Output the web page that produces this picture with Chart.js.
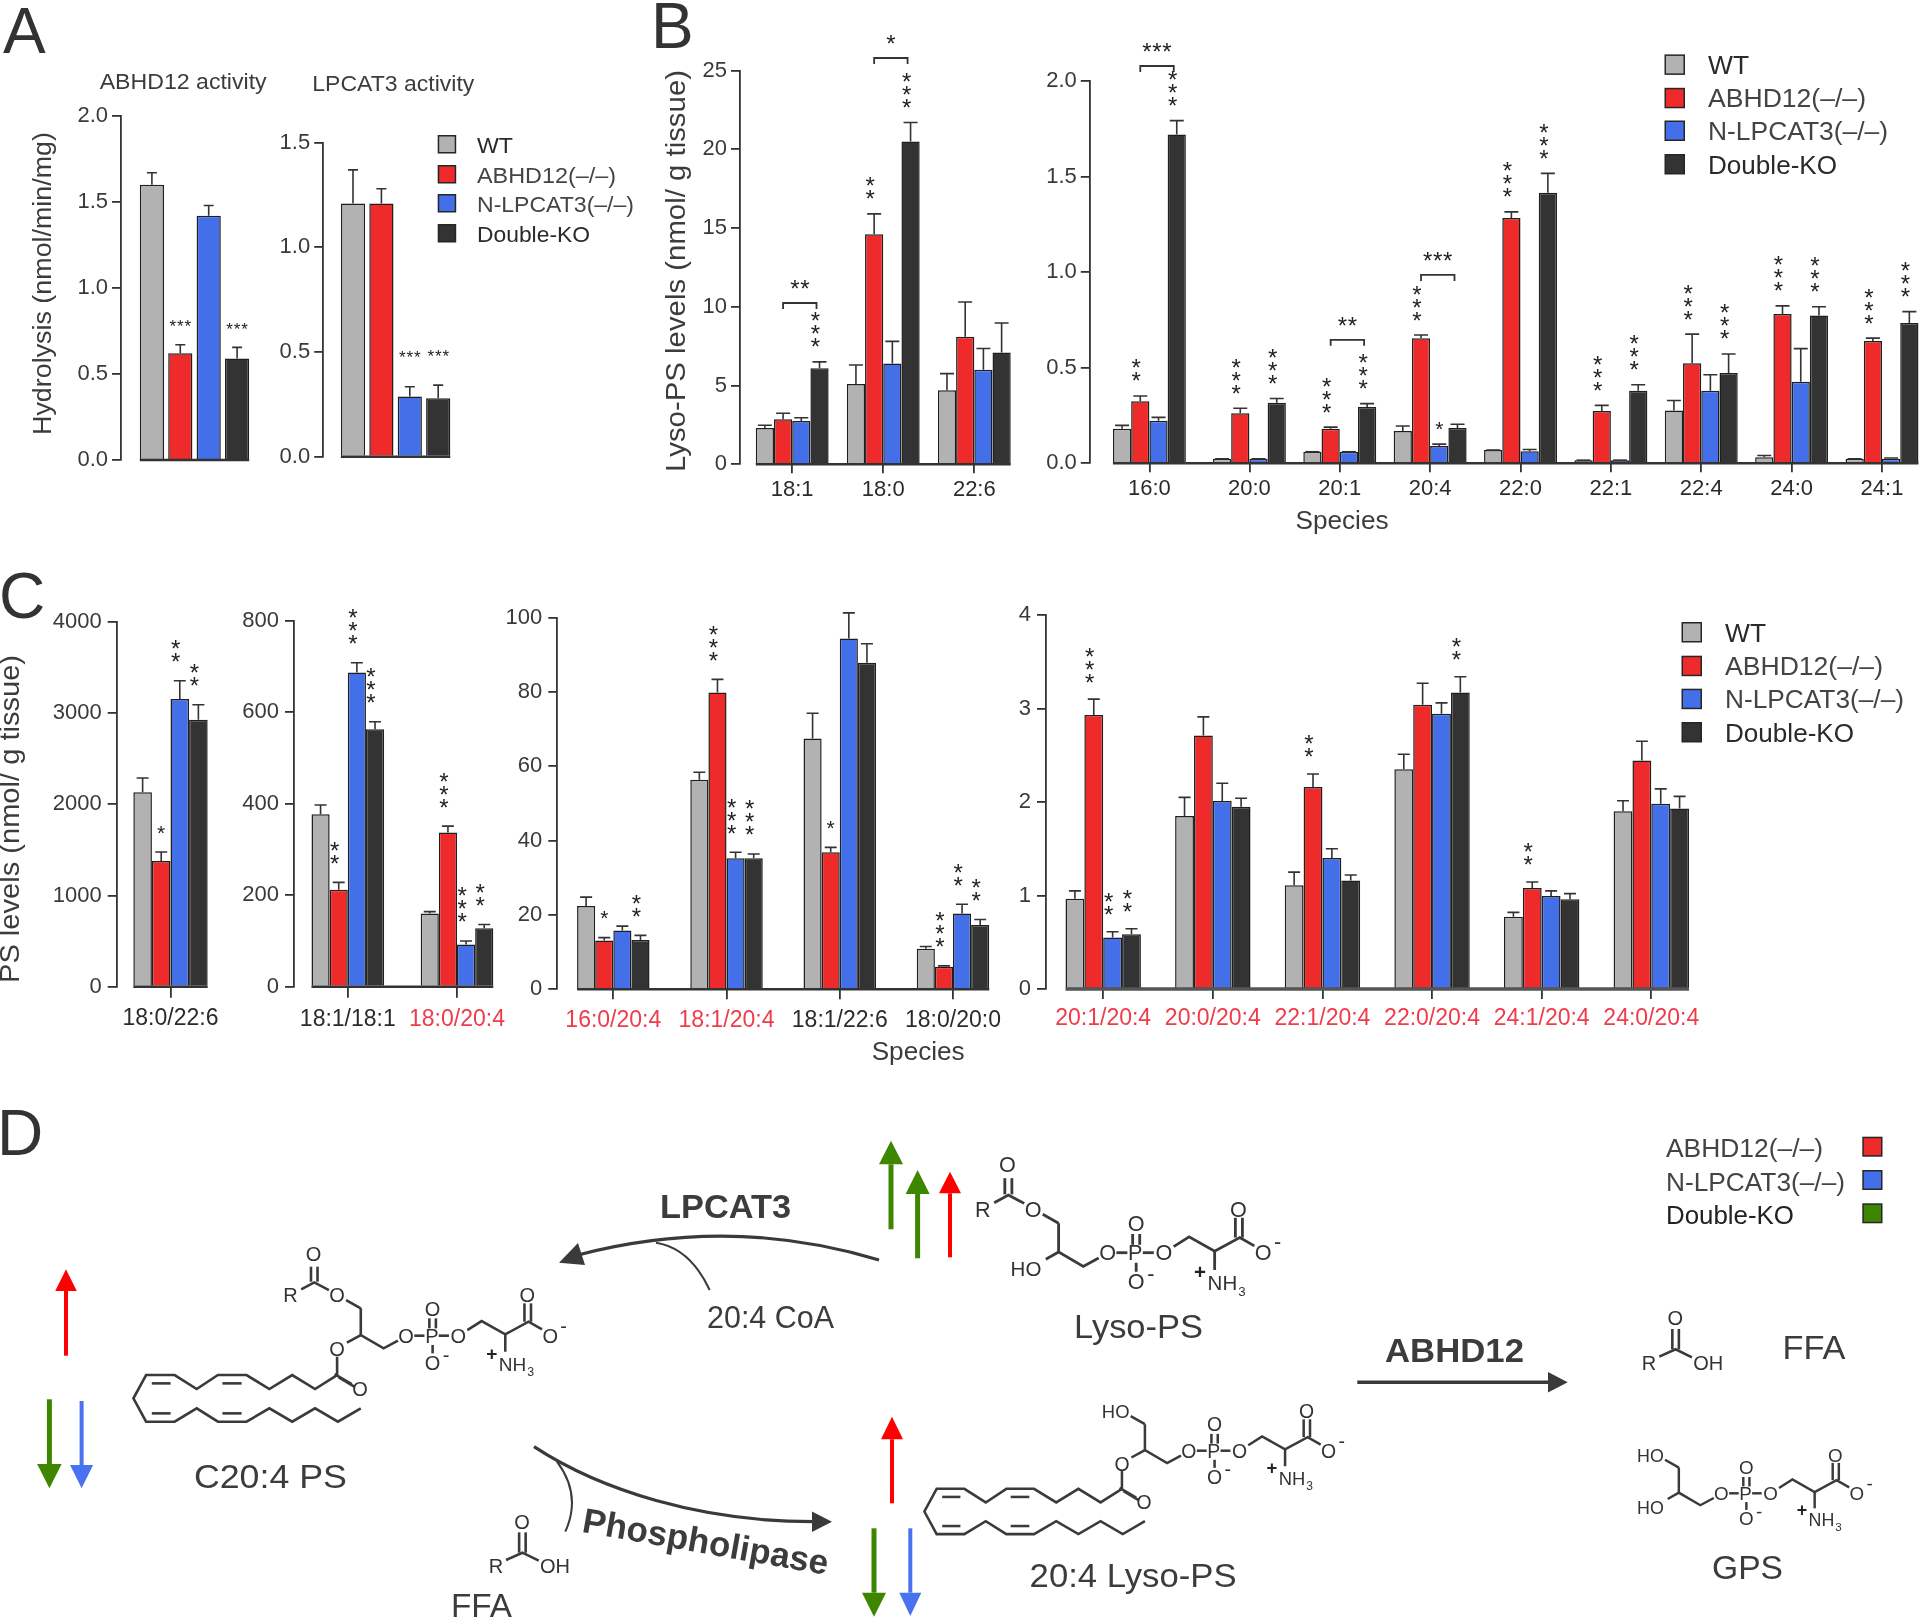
<!DOCTYPE html>
<html>
<head>
<meta charset="utf-8">
<script src="https://cdn.jsdelivr.net/npm/chart.js@4"></script>
<style>
  html, body { margin: 0; padding: 0; width: 1920px; height: 1619px; overflow: hidden; background: #fff; }
  #page { position: absolute; left: 0; top: 0; width: 1920px; height: 1619px; overflow: hidden; filter: blur(0.55px); }
  canvas, svg { position: absolute; left: 0; top: 0; }
</style>
</head>
<body>
<div id="page">
  <svg id="art" width="1920" height="1619" xmlns="http://www.w3.org/2000/svg"></svg>
</div>
<script>
// genotypes, same order in every panel
const seriesNames = ['WT', 'ABHD12(–/–)', 'N-LPCAT3(–/–)', 'Double-KO'];
const seriesColors = ['#b2b2b2', '#ee2a2b', '#436fe9', '#333333'];

// A
const a1Means = [[1.60], [0.62], [1.42], [0.59]];
const a1Tops = [[1.67], [0.67], [1.48], [0.655]];
const a1Stars = [[0], [3], [0], [3]];
const a2Means = [[1.21], [1.21], [0.287], [0.279]];
const a2Tops = [[1.37], [1.28], [0.334], [0.342]];
const a2Stars = [[0], [0], [3], [3]];

// B, long chain species
const b1Cats = ['18:1', '18:0', '22:6'];
const b1Means = [
  [2.3, 5.1, 4.7],
  [2.85, 14.6, 8.1],
  [2.75, 6.4, 6.0],
  [6.1, 20.5, 7.1]
];
const b1Tops = [
  [2.47, 6.3, 5.75],
  [3.24, 15.9, 10.3],
  [2.95, 7.8, 7.35],
  [6.5, 21.7, 8.97]
];
const b1Stars = [
  [0, 0, 0],
  [0, 2, 0],
  [0, 0, 0],
  [3, 3, 0]
];
const b1Brackets = [[0, 10.24, 2], [1, 25.8, 1]];

// B, 16:0 sits a little apart from the rest of its axis
const b2aCats = ['16:0'];
const b2aMeans = [[0.18], [0.325], [0.222], [1.722]];
const b2aTops = [[0.198], [0.352], [0.24], [1.794]];
const b2aStars = [[0], [2], [0], [3]];
const b2aBrackets = [[0, 2.08, 3]];

const b2Cats = ['20:0', '20:1', '20:4', '22:0', '22:1', '22:4', '24:0', '24:1'];
const b2Means = [
  [0.023, 0.06, 0.168, 0.069, 0.016, 0.276, 0.031, 0.023],
  [0.262, 0.18, 0.655, 1.284, 0.274, 0.523, 0.781, 0.64],
  [0.023, 0.06, 0.09, 0.063, 0.016, 0.379, 0.427, 0.023],
  [0.316, 0.294, 0.184, 1.416, 0.379, 0.472, 0.774, 0.734]
];
const b2Tops = [
  [0.023, 0.06, 0.195, 0.069, 0.016, 0.328, 0.04, 0.023],
  [0.288, 0.189, 0.671, 1.316, 0.303, 0.676, 0.824, 0.655],
  [0.023, 0.06, 0.1, 0.072, 0.016, 0.463, 0.6, 0.027],
  [0.339, 0.312, 0.204, 1.518, 0.411, 0.572, 0.819, 0.794]
];
const b2Stars = [
  [0, 0, 0, 0, 0, 0, 0, 0],
  [3, 3, 3, 3, 3, 3, 3, 3],
  [0, 0, 1, 0, 0, 0, 0, 0],
  [3, 3, 0, 3, 3, 3, 3, 3]
];
const b2Brackets = [[1, 0.646, 2], [2, 0.986, 3]];

// C
const c1Cats = ['18:0/22:6'];
const c1Means = [[2130], [1377], [3152], [2926]];
const c1Tops = [[2287], [1476], [3353], [3090]];
const c1Stars = [[0], [1], [2], [2]];

const c2Cats = ['18:1/18:1', '18:0/20:4'];
const c2Means = [[377, 160], [212, 337], [687, 92], [563, 128]];
const c2Tops = [[397, 164], [228, 351], [708, 100], [579, 136]];
const c2Stars = [[0, 0], [2, 3], [3, 3], [3, 2]];

const c3Cats = ['16:0/20:4', '18:1/20:4', '18:1/22:6', '18:0/20:0'];
const c3Means = [
  [22.4, 56.4, 67.5, 10.9],
  [13.1, 79.9, 36.9, 6.1],
  [15.8, 35.3, 94.4, 20.4],
  [13.3, 35.3, 87.9, 17.3]
];
const c3Tops = [
  [24.8, 58.4, 74.3, 11.5],
  [13.9, 83.4, 38.2, 6.3],
  [17, 36.9, 101.3, 22.9],
  [14.5, 36.4, 93, 18.8]
];
const c3Stars = [
  [0, 0, 0, 0],
  [1, 3, 1, 3],
  [0, 3, 0, 2],
  [2, 3, 0, 2]
];

const c4Cats = ['20:1/20:4', '20:0/20:4', '22:1/20:4', '22:0/20:4', '24:1/20:4', '24:0/20:4'];
const c4Means = [
  [0.966, 1.85, 1.11, 2.35, 0.774, 1.9],
  [2.93, 2.71, 2.16, 3.04, 1.08, 2.445],
  [0.55, 2.01, 1.4, 2.945, 0.995, 1.98],
  [0.585, 1.95, 1.16, 3.17, 0.96, 1.93]
];
const c4Tops = [
  [1.05, 2.05, 1.25, 2.51, 0.82, 2.014],
  [3.1, 2.91, 2.3, 3.27, 1.144, 2.65],
  [0.613, 2.2, 1.5, 3.06, 1.05, 2.14],
  [0.645, 2.04, 1.22, 3.34, 1.02, 2.06]
];
const c4Stars = [
  [0, 0, 0, 0, 0, 0],
  [3, 0, 2, 0, 2, 0],
  [2, 0, 0, 0, 0, 0],
  [2, 0, 0, 2, 0, 0]
];

const INK = '#333333';
const TEXT = '#3c3c3c';
const LABEL_RED = '#ef3b4a';
const CANVAS_W = 2000;
const CANVAS_H = 1619;

function starGlyph(ctx, x, cy, size) {
  ctx.font = size + 'px "Liberation Sans"';
  ctx.fillText('*', x, cy + size * 0.56);
}

// error bars, baseline, significance stars and brackets, drawn off the chart's own scales
const decorations = {
  id: 'decorations',
  afterLayout(chart) {
    const o = chart.options.plugins.decorations;
    if (o.axisX !== undefined && chart.scales.y.options.display) {
      const gap = chart.chartArea.left - o.axisX;
      chart.scales.y.left -= gap;
      chart.scales.y.right -= gap;
    }
  },
  afterDatasetsDraw(chart) {
    const o = chart.options.plugins.decorations;
    const { ctx } = chart;
    const y = chart.scales.y;
    const y0 = y.getPixelForValue(0);
    const metas = chart.data.datasets.map((d, i) => chart.getDatasetMeta(i));
    ctx.save();
    ctx.strokeStyle = INK;
    ctx.fillStyle = '#222';
    ctx.textAlign = 'center';
    ctx.textBaseline = 'alphabetic';

    // baseline runs under the bars only, not back to the y axis
    const firstBar = metas[0].data[0];
    const lastMeta = metas[metas.length - 1].data;
    const lastBar = lastMeta[lastMeta.length - 1];
    ctx.lineWidth = o.baseWidth;
    ctx.strokeStyle = o.baseColor;
    ctx.beginPath();
    ctx.moveTo(firstBar.x - firstBar.width / 2 - o.baseLeft, y0);
    ctx.lineTo(lastBar.x + lastBar.width / 2, y0);
    ctx.stroke();
    ctx.strokeStyle = INK;

    metas.forEach((meta, i) => {
      meta.data.forEach((bar, j) => {
        const top = y.getPixelForValue(o.tops[i][j]);
        ctx.lineWidth = 1.6;
        ctx.beginPath();
        ctx.moveTo(bar.x, bar.y);
        ctx.lineTo(bar.x, top);
        ctx.moveTo(bar.x - o.cap / 2, top);
        ctx.lineTo(bar.x + o.cap / 2, top);
        ctx.stroke();

        const n = o.stars[i][j];
        for (let k = 0; k < n; k++) {
          if (o.starsFlat) {
            starGlyph(ctx, bar.x + (k - (n - 1) / 2) * o.starStep, top - o.starGap, o.starSize);
          } else if (n === 1) {
            starGlyph(ctx, bar.x, top - o.starGap, o.starSize - 3);
          } else {
            starGlyph(ctx, bar.x - 4, top - o.starGap - k * o.starStep, o.starSize);
          }
        }
      });
    });

    (o.brackets || []).forEach(([cat, value, n]) => {
      const a = metas[1].data[cat];
      const b = metas[3].data[cat];
      const py = y.getPixelForValue(value);
      const xa = a.x;
      const xb = b.x - 3;
      ctx.lineWidth = 1.8;
      ctx.beginPath();
      ctx.moveTo(xa, py + 6);
      ctx.lineTo(xa, py);
      ctx.lineTo(xb, py);
      ctx.lineTo(xb, py + 6);
      ctx.stroke();
      for (let k = 0; k < n; k++) {
        starGlyph(ctx, (xa + xb) / 2 + (k - (n - 1) / 2) * 10, py - 19, o.starSize);
      }
    });
    ctx.restore();
  }
};

function makePanel(p) {
  const canvas = document.createElement('canvas');
  canvas.width = CANVAS_W;
  canvas.height = CANVAS_H;
  document.getElementById('page').appendChild(canvas);
  const cats = p.cats || [''];
  const yWidth = 100;
  const xHeight = 50;
  const showX = p.cats !== undefined;
  new Chart(canvas.getContext('2d'), {
    type: 'bar',
    data: {
      labels: cats,
      datasets: p.means.map((vals, i) => ({
        label: seriesNames[i],
        data: vals,
        backgroundColor: seriesColors[i],
        borderColor: '#1f1f1f',
        borderWidth: 1.5,
        categoryPercentage: p.catPct,
        barPercentage: p.barPct
      }))
    },
    plugins: [decorations],
    options: {
      responsive: false,
      animation: false,
      devicePixelRatio: 1,
      events: [],
      layout: {
        padding: {
          left: p.left - (p.yAxis === false ? 0 : yWidth),
          right: CANVAS_W - p.right,
          top: p.top,
          bottom: CANVAS_H - p.bottom - (showX ? xHeight : 0)
        }
      },
      scales: {
        x: {
          display: showX,
          offset: true,
          grid: { offset: false, drawOnChartArea: false, drawTicks: true, tickLength: p.tickLen || 9, color: INK, lineWidth: 1.8 },
          border: { display: false },
          ticks: {
            autoSkip: false,
            maxRotation: 0,
            padding: p.xPad || 4,
            font: { family: 'Liberation Sans', size: p.xFont || 22 },
            color: (ctx) => (p.redCats && p.redCats.includes(ctx.index) ? LABEL_RED : '#2b2b2b')
          },
          afterFit: (s) => { s.height = showX ? xHeight : 0; }
        },
        y: {
          display: p.yAxis !== false,
          min: 0,
          max: p.max,
          grid: { drawOnChartArea: false, drawTicks: true, tickLength: p.yTick || 9, color: INK, lineWidth: 1.8 },
          border: { color: INK, width: 1.8 },
          ticks: {
            stepSize: p.step,
            padding: p.yPad || 4,
            font: { family: 'Liberation Sans', size: 22 },
            color: '#3a3a3a',
            callback: (v) => v.toFixed(p.decimals || 0)
          },
          afterFit: (s) => { s.width = p.yAxis === false ? 0 : yWidth; }
        }
      },
      plugins: {
        legend: { display: false },
        tooltip: { enabled: false },
        title: { display: false },
        decorations: {
          axisX: p.axisX,
          tops: p.tops,
          stars: p.stars,
          brackets: p.brackets,
          cap: p.cap,
          starGap: p.starGap,
          starStep: p.starStep || 13,
          starSize: p.starSize || 24,
          starsFlat: p.starsFlat,
          baseWidth: p.baseWidth || 2.4,
          baseColor: p.baseColor || INK,
          baseLeft: p.baseLeft || 0
        }
      }
    }
  });
}

// plot rectangle of a panel from where its groups sit on the page
function span(first, last, step) {
  return { left: first - step / 2, right: last + step / 2 };
}

makePanel({ ...span(194.5, 194.5, 113.6), axisX: 121, top: 116, bottom: 460, max: 2, step: 0.5, decimals: 1, catPct: 1, barPct: 0.852,
  means: a1Means, tops: a1Tops, stars: a1Stars, cap: 10, starGap: 22, starStep: 7.5, starSize: 17, starsFlat: true });
makePanel({ ...span(395.6, 395.6, 113.6), axisX: 323.2, top: 142.7, bottom: 456.7, max: 1.5, step: 0.5, decimals: 1, catPct: 1, barPct: 0.852,
  means: a2Means, tops: a2Tops, stars: a2Stars, cap: 10, starGap: 33, starStep: 7.5, starSize: 17, starsFlat: true });

makePanel({ ...span(792.2, 974.3, 91.05), axisX: 740, top: 70.6, bottom: 464.2, max: 25, step: 5, catPct: 0.8, barPct: 1,
  cats: b1Cats, means: b1Means, tops: b1Tops, stars: b1Stars, brackets: b1Brackets, cap: 14, starGap: 20 });
makePanel({ ...span(1149.4, 1149.4, 90.37), axisX: 1089.8, top: 81.3, bottom: 463.2, max: 2, step: 0.5, decimals: 1, catPct: 0.807, barPct: 1,
  cats: b2aCats, means: b2aMeans, tops: b2aTops, stars: b2aStars, brackets: b2aBrackets, cap: 14, starGap: 20 });
makePanel({ ...span(1249.4, 1882, 90.37), yAxis: false, top: 81.3, bottom: 463.2, max: 2, step: 0.5, catPct: 0.807, barPct: 1, baseLeft: 27,
  cats: b2Cats, means: b2Means, tops: b2Tops, stars: b2Stars, brackets: b2Brackets, cap: 14, starGap: 20 });

makePanel({ ...span(170.5, 170.5, 90), axisX: 116.7, top: 621.7, bottom: 986.7, max: 4000, step: 1000, catPct: 0.826, barPct: 1, tickLen: 11, yPad: 6, xPad: 7, xFont: 23,
  cats: c1Cats, means: c1Means, tops: c1Tops, stars: c1Stars, cap: 12, starGap: 24 });
makePanel({ ...span(347.8, 457, 109.2), axisX: 294, top: 620.7, bottom: 986.7, max: 800, step: 200, catPct: 0.665, barPct: 1, tickLen: 11, yPad: 6, xPad: 8, xFont: 23,
  cats: c2Cats, redCats: [1], means: c2Means, tops: c2Tops, stars: c2Stars, cap: 12, starGap: 24 });
makePanel({ ...span(613.3, 953, 113.23), axisX: 557.3, top: 617.7, bottom: 989.3, max: 100, step: 20, catPct: 0.64, barPct: 1, tickLen: 10, yPad: 6, xPad: 8, xFont: 23,
  cats: c3Cats, redCats: [0, 1], means: c3Means, tops: c3Tops, stars: c3Stars, cap: 12, starGap: 24 });
makePanel({ ...span(1103.2, 1651.3, 109.62), axisX: 1046, top: 615, bottom: 989, max: 4, step: 1, catPct: 0.688, barPct: 1, tickLen: 10, yPad: 6, xPad: 6, xFont: 23,
  cats: c4Cats, redCats: [0, 1, 2, 3, 4, 5], means: c4Means, tops: c4Tops, stars: c4Stars, cap: 12, starGap: 22, baseWidth: 3.5, baseColor: '#555' });

// ---- everything around the charts: titles, legends, panel letters, the pathway in D
const art = document.getElementById('art');
const NS = 'http://www.w3.org/2000/svg';

function add(tag, attrs, text) {
  const el = document.createElementNS(NS, tag);
  Object.entries(attrs).forEach(([k, v]) => el.setAttribute(k, v));
  if (text !== undefined) el.textContent = text;
  art.appendChild(el);
  return el;
}

function label(str, x, y, size, opt = {}) {
  const attrs = {
    x, y,
    'font-family': 'Liberation Sans',
    'font-size': size,
    fill: opt.fill || TEXT,
    'text-anchor': opt.anchor || 'start'
  };
  if (opt.weight) attrs['font-weight'] = opt.weight;
  if (opt.len) { attrs.textLength = opt.len; attrs.lengthAdjust = 'spacingAndGlyphs'; }
  if (opt.rot !== undefined) attrs.transform = `rotate(${opt.rot} ${x} ${y})`;
  return add('text', attrs, str);
}

function line(points, width = 2.2, color = '#3a3a3a') {
  add('polyline', {
    points: points.map((p) => p.join(',')).join(' '),
    fill: 'none', stroke: color, 'stroke-width': width, 'stroke-linejoin': 'miter'
  });
}

function swatch(x, y, w, h, color) {
  add('rect', { x: x + 0.75, y: y + 0.75, width: w - 1.5, height: h - 1.5, fill: color, stroke: '#262626', 'stroke-width': 1.5 });
}

label('A', 3, 53, 64, { fill: '#333' });
label('B', 651, 48, 64, { fill: '#333' });
label('C', -1, 618, 64, { fill: '#333' });
label('D', -3, 1155, 64, { fill: '#333' });

label('ABHD12 activity', 99.7, 89, 22, { len: 167 });
label('LPCAT3 activity', 312.3, 90.7, 22, { len: 162 });
label('Hydrolysis (nmol/min/mg)', 51.3, 283.5, 26, { anchor: 'middle', rot: -90, len: 303 });
label('Lyso-PS levels (nmol/ g tissue)', 685, 271, 28, { anchor: 'middle', rot: -90, len: 402 });
label('PS levels (nmol/ g tissue)', 19.3, 819, 28, { anchor: 'middle', rot: -90, len: 328 });
label('Species', 1295.5, 528.6, 26, { len: 93 });
label('Species', 871.7, 1060, 26, { len: 93 });

function legend(xBox, ys, size, xText, font, lens) {
  seriesNames.forEach((name, i) => {
    swatch(xBox, ys[i], size, size, seriesColors[i]);
    label(name, xText, ys[i] + size - 1, font, { fill: i === 0 || i === 3 ? '#2a2a2a' : '#444', len: lens[i] });
  });
}
legend(437.7, [135, 165, 194, 224], 18.5, 477, 22, [36, 139, 157, 113]);
legend(1664.5, [54.4, 87.8, 120.5, 154], 20.5, 1708, 26, [41, 158, 180, 129]);
legend(1681.5, [622, 655.7, 688.7, 722], 20.5, 1725, 26, [41, 158, 179, 129]);

// legend of D uses green for the double knockout
const dNames = seriesNames.slice(1);
const dColors = ['#ee2a2b', '#436fe9', '#3f8600'];
const dLens = [157, 179, 128];
dNames.forEach((name, i) => {
  const yy = [1136.7, 1170, 1203.3][i];
  swatch(1862.3, yy, 20.2, 20, dColors[i]);
  label(name, 1666, yy + 20.5, 26, { fill: i === 2 ? '#222' : '#444', len: dLens[i] });
});

// ---- up/down arrows
function blockArrow(x, tail, tip, base, headW, shaft, color) {
  add('line', { x1: x, y1: tail, x2: x, y2: base, stroke: color, 'stroke-width': shaft });
  add('polygon', { points: `${x},${tip} ${x - headW / 2},${base} ${x + headW / 2},${base}`, fill: color });
}
const GREEN = '#3f8600', RED = '#ff0000', BLUE = '#4a72f0';
blockArrow(66, 1355.7, 1269.3, 1291, 21.6, 4, RED);
blockArrow(49.4, 1399.3, 1488.3, 1464, 24.5, 5, GREEN);
blockArrow(81.6, 1401, 1488.3, 1465, 23, 4, BLUE);
blockArrow(891, 1229.3, 1140.7, 1164.3, 24, 5, GREEN);
blockArrow(917.6, 1258.3, 1170, 1194, 24, 5, GREEN);
blockArrow(950, 1257.3, 1171.7, 1193.3, 22, 4, RED);
blockArrow(892, 1503.3, 1416.7, 1439.3, 22, 4, RED);
blockArrow(874, 1528.3, 1616.7, 1592.7, 24, 5, GREEN);
blockArrow(910.3, 1528.3, 1616, 1592.7, 22, 4, BLUE);

// ---- reaction arrows
function curve(d, width) {
  add('path', { d, fill: 'none', stroke: '#3a3a3a', 'stroke-width': width });
}
curve('M879,1260 Q731,1215 578,1255', 3.2);
add('polygon', { points: '559,1262.7 578,1243 585,1265', fill: '#3a3a3a' });
curve('M656,1242.7 Q690,1248 709.7,1290', 2);
curve('M534,1446.7 C600,1490 700,1522 815,1521.7', 3.2);
add('polygon', { points: '832,1521.7 812,1511.5 812,1532', fill: '#3a3a3a' });
curve('M557,1461.7 Q582,1495 565.3,1531.7', 2);
curve('M1357.3,1382.3 L1550,1382.3', 3.4);
add('polygon', { points: '1567.7,1382.3 1548,1372 1548,1392.6', fill: '#3a3a3a' });

label('LPCAT3', 660, 1218, 34, { weight: 'bold', len: 131 });
label('20:4 CoA', 707, 1328, 31, { len: 127 });
label('Lyso-PS', 1074, 1338, 34, { len: 129 });
label('Phospholipase', 581, 1531.7, 35, { weight: 'bold', rot: 10, len: 249 });
label('ABHD12', 1385, 1361.7, 34, { weight: 'bold', len: 139 });
label('FFA', 1782.4, 1359.3, 34, { len: 63 });
label('GPS', 1712, 1579.3, 34, { len: 71 });
label('C20:4 PS', 193.9, 1488, 34, { len: 153 });
label('FFA', 451, 1616.7, 34, { len: 61 });
label('20:4 Lyso-PS', 1029.6, 1586.7, 34, { len: 207 });

// ---- structures; bond lists are traced once and placed around the phosphorus atom
const headBonds = [
  [[884, 625], [884, 705], [940, 745], [975, 722]],
  [[1015, 707], [1040, 707]], [[1075, 707], [1100, 707]],
  [[1052, 655], [1052, 685]], [[1068, 655], [1068, 685]], [[1060, 735], [1060, 760]],
  [[1145, 690], [1180, 663], [1238, 703], [1295, 665], [1328, 688]],
  [[1285, 610], [1285, 665]], [[1301, 610], [1301, 665]],
  [[1238, 703], [1238, 755]]
];
const headAtoms = [['O', 995, 707], ['P', 1058, 707], ['O', 1123, 707], ['O', 1060, 625], ['O', 1060, 787], ['O', 1292, 585], ['O', 1348, 707]];
const sn1Bonds = [
  [[884, 625], [848, 600]], [[806, 570], [770, 547], [738, 568]],
  [[762, 500], [762, 545]], [[778, 500], [778, 545]]
];
const sn1Atoms = [['O', 768, 460], ['R', 712, 585], ['O', 826, 585]];
const acylBonds = [
  [[884, 705], [850, 728]], [[826, 770], [826, 825]], [[820, 822], [862, 852]], [[830, 832], [868, 860]],
  [[826, 825], [772, 867], [716, 825], [660, 867], [604, 825], [534, 825], [482, 867], [428, 825], [358, 825], [327, 895], [358, 965], [428, 965], [482, 925], [534, 965], [604, 965], [660, 925], [716, 965], [772, 925], [828, 965], [884, 925]],
  [[372, 850], [418, 850]], [[545, 850], [592, 850]], [[372, 940], [418, 940]], [[545, 940], [592, 940]]
];
const acylAtoms = [['O', 826, 747], ['O', 882, 867]];

function drawStructure(place, bonds, atoms, hydroxyls) {
  const map = ([px, py]) => [place.x + ((px - 1058) / 2.45) * place.s, place.y + ((py - 707) / 3) * place.s];
  const size = 20 * place.s;
  bonds.forEach((b) => line(b.map(map), 2.6 * place.s));
  atoms.forEach(([a, px, py]) => {
    const [x, y] = map([px, py]);
    label(a, x, y + size * 0.36, size, { anchor: 'middle', fill: '#333' });
  });
  [[1093, 767], [1381, 680]].forEach((pt) => {
    const [x, y] = map(pt);
    label('-', x, y + size * 0.3, size, { anchor: 'middle', fill: '#333' });
  });
  const [px, py] = map([1205, 762]);
  label('+', px, py + size * 0.3, size * 0.95, { anchor: 'middle', fill: '#222', weight: 'bold' });
  const [nx, ny] = map([1222, 790]);
  label('NH', nx, ny + size * 0.36, size * 0.95, { fill: '#333' });
  label('3', nx + size * 1.42, ny + size * 0.62, size * 0.62, { fill: '#333' });
  hydroxyls.forEach((pt) => {
    const [x, y] = map(pt);
    label('HO', x, y + size * 0.36, size * 0.95, { anchor: 'end', fill: '#333' });
  });
}

const sn2Hydroxyl = [845, 750];
const sn1Hydroxyl = [845, 585];
drawStructure({ x: 431.8, y: 1335.7, s: 1 }, [...headBonds, ...sn1Bonds, ...acylBonds], [...headAtoms, ...sn1Atoms, ...acylAtoms], []);
drawStructure({ x: 1135.3, y: 1252.7, s: 1.08 }, [...headBonds, ...sn1Bonds, [[884, 705], [855, 725]]], [...headAtoms, ...sn1Atoms], [sn2Hydroxyl]);
drawStructure({ x: 1213.8, y: 1450.7, s: 0.97 }, [...headBonds, ...acylBonds, [[884, 625], [848, 600]]], [...headAtoms, ...acylAtoms], [sn1Hydroxyl]);
drawStructure({ x: 1745.6, y: 1493.3, s: 0.94 }, [...headBonds, [[884, 625], [848, 600]], [[884, 705], [855, 725]]], headAtoms, [sn1Hydroxyl, sn2Hydroxyl]);

function drawAcid(x, y) {
  const map = ([px, py]) => [x + (px - 1280) / 2.45, y + (py - 1358) / 3];
  [[[1272, 1297], [1272, 1358]], [[1288, 1297], [1288, 1358]], [[1240, 1380], [1280, 1358], [1320, 1382]]].forEach((b) => line(b.map(map), 2.6));
  const [ox, oy] = map([1279, 1265]);
  label('O', ox, oy + 7, 20, { anchor: 'middle', fill: '#333' });
  const [rx, ry] = map([1215, 1398]);
  label('R', rx, ry + 7, 20, { anchor: 'middle', fill: '#333' });
  const [hx, hy] = map([1360, 1398]);
  label('OH', hx, hy + 7, 20, { anchor: 'middle', fill: '#333' });
}
drawAcid(522.4, 1552.7);
drawAcid(1675.6, 1349.3);
</script>
</body>
</html>
